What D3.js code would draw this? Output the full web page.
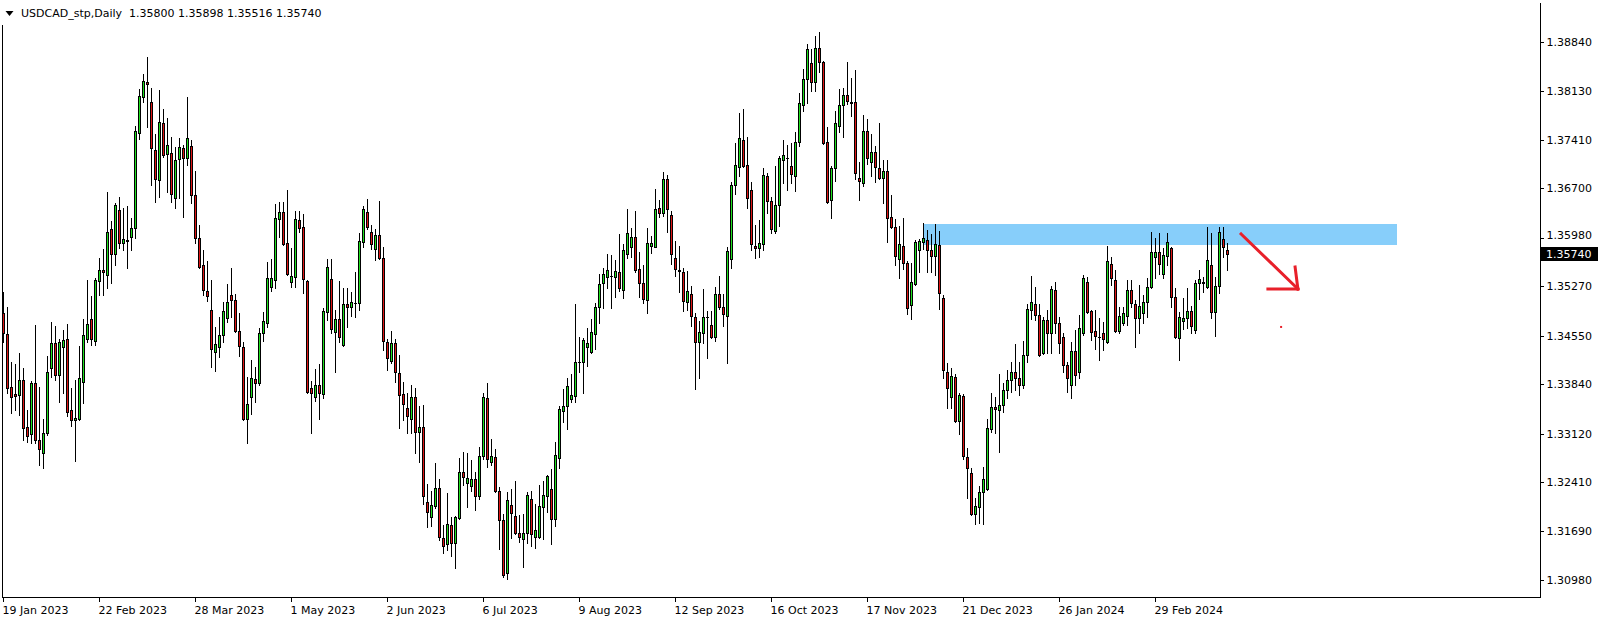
<!DOCTYPE html>
<html><head><meta charset="utf-8">
<script src="https://cdn.jsdelivr.net/npm/d3@7"></script>
<style>
body{margin:0;background:#fff;}
svg{display:block;}
text{font-family:"DejaVu Sans",sans-serif;font-size:11px;fill:#000;}
</style>
</head><body>
<svg id="c" width="1604" height="623"></svg>
<script>
const title = "USDCAD_stp,Daily  1.35800 1.35898 1.35516 1.35740";

const open = [
1.3488,1.3457,1.3380,1.3370,1.3368,1.3390,1.3322,1.3311,1.3386,1.3303,
1.3284,1.3313,1.3408,1.3444,1.3397,1.3438,1.3450,1.3346,1.3332,1.3333,
1.3387,1.3450,1.3479,1.3447,1.3535,1.3551,1.3544,1.3611,1.3574,1.3639,
1.3590,1.3593,1.3599,1.3612,1.3751,1.3804,1.3826,1.3796,1.3726,1.3682,
1.3766,1.3720,1.3722,1.3656,1.3713,1.3729,1.3715,1.3732,1.3661,1.3598,
1.3558,1.3520,1.3493,1.3431,1.3438,1.3456,1.3481,1.3514,1.3507,1.3462,
1.3438,1.3333,1.3365,1.3392,1.3386,1.3459,1.3474,1.3526,1.3536,1.3626,
1.3636,1.3590,1.3533,1.3541,1.3624,1.3614,1.3535,1.3378,1.3365,1.3383,
1.3370,1.3490,1.3538,1.3460,1.3479,1.3441,1.3501,1.3497,1.3503,1.3503,
1.3592,1.3636,1.3606,1.3582,1.3602,1.3568,1.3446,1.3418,1.3444,1.3400,
1.3370,1.3349,1.3333,1.3365,1.3314,1.3322,1.3212,1.3190,1.3206,1.3232,
1.3159,1.3151,1.3178,1.3152,1.3189,1.3256,1.3240,1.3235,1.3246,1.3221,
1.3279,1.3364,1.3270,1.3278,1.3228,1.3186,1.3108,1.3208,1.3192,1.3167,
1.3158,1.3167,1.3216,1.3161,1.3161,1.3205,1.3221,1.3231,1.3187,1.3276,
1.3345,1.3352,1.3362,1.3367,1.3416,1.3416,1.3438,1.3431,1.3457,1.3497,
1.3532,1.3541,1.3542,1.3541,1.3548,1.3522,1.3574,1.3585,1.3599,1.3552,
1.3532,1.3507,1.3586,1.3585,1.3642,1.3634,1.3684,1.3631,1.3568,1.3551,
1.3548,1.3504,1.3516,1.3482,1.3446,1.3459,1.3482,1.3471,1.3453,1.3516,
1.3497,1.3484,1.3567,1.3675,1.3701,1.3741,1.3704,1.3668,1.3586,1.3583,
1.3589,1.3688,1.3652,1.3608,1.3646,1.3712,1.3715,1.3703,1.3688,1.3738,
1.3792,1.3830,1.3853,1.3826,1.3875,1.3855,1.3738,1.3653,1.3700,1.3761,
1.3792,1.3807,1.3796,1.3796,1.3685,1.3678,1.3754,1.3709,1.3723,1.3700,
1.3685,1.3696,1.3628,1.3614,1.3567,1.3586,1.3561,1.3500,1.3530,1.3580,
1.3592,1.3595,1.3580,1.3571,1.3588,1.3510,1.3402,1.3365,1.3395,1.3330,
1.3367,1.3278,1.3254,1.3194,1.3205,1.3227,1.3231,1.3319,1.3351,1.3346,
1.3354,1.3376,1.3390,1.3402,1.3393,1.3383,1.3427,1.3493,1.3501,1.3485,
1.3430,1.3478,1.3459,1.3522,1.3474,1.3453,1.3412,1.3383,1.3433,1.3402,
1.3459,1.3533,1.3491,1.3462,1.3453,1.3459,1.3446,1.3560,1.3536,1.3462,
1.3474,1.3484,1.3522,1.3501,1.3481,1.3488,1.3504,1.3526,1.3570,1.3577,
1.3545,1.3571,1.3583,1.3511,1.3452,1.3476,1.3481,1.3491,1.3463,1.3532,
1.3532,1.3526,1.3558,1.3490,1.3528,1.3596,1.35800];

const high = [
1.3519,1.3497,1.3416,1.3414,1.3430,1.3408,1.3346,1.3389,1.3471,1.3380,
1.3333,1.3425,1.3475,1.3469,1.3450,1.3463,1.3472,1.3378,1.3390,1.3440,
1.3479,1.3536,1.3513,1.3539,1.3568,1.3582,1.3665,1.3623,1.3649,1.3658,
1.3642,1.3644,1.3627,1.3761,1.3815,1.3837,1.3862,1.3817,1.3750,1.3814,
1.3786,1.3773,1.3745,1.3731,1.3744,1.3734,1.3804,1.3741,1.3696,1.3617,
1.3580,1.3564,1.3536,1.3468,1.3482,1.3504,1.3530,1.3554,1.3516,1.3488,
1.3446,1.3395,1.3419,1.3409,1.3466,1.3490,1.3563,1.3567,1.3647,1.3650,
1.3650,1.3668,1.3583,1.3637,1.3637,1.3633,1.3536,1.3389,1.3406,1.3414,
1.3495,1.3567,1.3567,1.3493,1.3535,1.3525,1.3525,1.3519,1.3548,1.3605,
1.3644,1.3655,1.3617,1.3611,1.3652,1.3585,1.3450,1.3462,1.3450,1.3427,
1.3387,1.3371,1.3383,1.3378,1.3352,1.3354,1.3238,1.3228,1.3269,1.3246,
1.3178,1.3225,1.3190,1.3192,1.3276,1.3285,1.3284,1.3273,1.3256,1.3292,
1.3371,1.3386,1.3304,1.3289,1.3234,1.3194,1.3227,1.3231,1.3243,1.3193,
1.3194,1.3227,1.3228,1.3209,1.3237,1.3243,1.3251,1.3260,1.3300,1.3352,
1.3377,1.3393,1.3399,1.3501,1.3453,1.3452,1.3466,1.3479,1.3503,1.3545,
1.3554,1.3574,1.3573,1.3566,1.3604,1.3589,1.3640,1.3612,1.3637,1.3577,
1.3558,1.3612,1.3601,1.3669,1.3653,1.3694,1.3690,1.3637,1.3593,1.3586,
1.3554,1.3549,1.3528,1.3488,1.3476,1.3523,1.3491,1.3491,1.3526,1.3542,
1.3516,1.3585,1.3680,1.3737,1.3780,1.3786,1.3745,1.3680,1.3617,1.3624,
1.3700,1.3693,1.3658,1.3703,1.3718,1.3741,1.3734,1.3737,1.3753,1.3810,
1.3845,1.3881,1.3874,1.3893,1.3899,1.3856,1.3760,1.3703,1.3783,1.3815,
1.3817,1.3855,1.3831,1.3843,1.3709,1.3777,1.3772,1.3750,1.3732,1.3766,
1.3712,1.3712,1.3661,1.3626,1.3615,1.3627,1.3564,1.3561,1.3595,1.3596,
1.3620,1.3609,1.3604,1.3618,1.3608,1.3514,1.3415,1.3408,1.3399,1.3371,
1.3370,1.3291,1.3262,1.3218,1.3235,1.3263,1.3333,1.3371,1.3365,1.3399,
1.3386,1.3405,1.3416,1.3443,1.3416,1.3447,1.3501,1.3542,1.3526,1.3501,
1.3482,1.3493,1.3528,1.3533,1.3482,1.3459,1.3416,1.3446,1.3463,1.3485,
1.3544,1.3541,1.3493,1.3493,1.3481,1.3475,1.3586,1.3570,1.3551,1.3497,
1.3497,1.3536,1.3536,1.3507,1.3529,1.3514,1.3539,1.3606,1.3598,1.3605,
1.3583,1.3605,1.3585,1.3525,1.3490,1.3510,1.3525,1.3498,1.3536,1.3551,
1.3541,1.3614,1.3605,1.3541,1.3614,1.3614,1.35898];

const low = [
1.3446,1.3371,1.3342,1.3346,1.3339,1.3303,1.3300,1.3298,1.3298,1.3266,
1.3262,1.3310,1.3395,1.3390,1.3358,1.3371,1.3338,1.3323,1.3272,1.3332,
1.3357,1.3446,1.3441,1.3441,1.3514,1.3514,1.3525,1.3532,1.3558,1.3583,
1.3580,1.3554,1.3580,1.3598,1.3742,1.3796,1.3760,1.3675,1.3650,1.3658,
1.3716,1.3665,1.3650,1.3642,1.3656,1.3628,1.3704,1.3649,1.3590,1.3554,
1.3514,1.3506,1.3409,1.3403,1.3424,1.3446,1.3475,1.3482,1.3460,1.3425,
1.3332,1.3298,1.3341,1.3358,1.3383,1.3447,1.3468,1.3520,1.3525,1.3599,
1.3588,1.3544,1.3526,1.3526,1.3606,1.3517,1.3371,1.3313,1.3359,1.3333,
1.3364,1.3478,1.3459,1.3402,1.3446,1.3440,1.3468,1.3484,1.3482,1.3493,
1.3585,1.3611,1.3582,1.3566,1.3567,1.3434,1.3405,1.3415,1.3387,1.3320,
1.3332,1.3313,1.3313,1.3284,1.3270,1.3209,1.3175,1.3177,1.3203,1.3156,
1.3137,1.3142,1.3133,1.3116,1.3187,1.3237,1.3205,1.3228,1.3200,1.3216,
1.3275,1.3263,1.3266,1.3227,1.3143,1.3102,1.3099,1.3159,1.3165,1.3154,
1.3117,1.3152,1.3148,1.3145,1.3159,1.3158,1.3197,1.3151,1.3177,1.3262,
1.3329,1.3319,1.3358,1.3358,1.3402,1.3371,1.3411,1.3430,1.3436,1.3474,
1.3495,1.3525,1.3495,1.3511,1.3520,1.3510,1.3568,1.3570,1.3548,1.3511,
1.3503,1.3488,1.3576,1.3584,1.3628,1.3630,1.3606,1.3560,1.3542,1.3519,
1.3491,1.3493,1.3469,1.3377,1.3393,1.3444,1.3422,1.3452,1.3447,1.3494,
1.3469,1.3415,1.3554,1.3662,1.3688,1.3701,1.3642,1.3580,1.3568,1.3570,
1.3580,1.3634,1.3605,1.3605,1.3615,1.3678,1.3668,1.3678,1.3667,1.3732,
1.3783,1.3795,1.3812,1.3812,1.3840,1.3735,1.3649,1.3627,1.3681,1.3753,
1.3745,1.3793,1.3776,1.3684,1.3653,1.3674,1.3706,1.3688,1.3680,1.3684,
1.3649,1.3592,1.3612,1.3558,1.3539,1.3552,1.3487,1.3479,1.3529,1.3548,
1.3582,1.3548,1.3548,1.3544,1.3494,1.3393,1.3349,1.3349,1.3329,1.3311,
1.3275,1.3218,1.3193,1.3180,1.3181,1.3180,1.3230,1.3314,1.3313,1.3285,
1.3343,1.3364,1.3373,1.3376,1.3368,1.3378,1.3416,1.3479,1.3478,1.3425,
1.3428,1.3430,1.3430,1.3459,1.3430,1.3402,1.3373,1.3364,1.3383,1.3393,
1.3456,1.3488,1.3449,1.3436,1.3419,1.3434,1.3444,1.3529,1.3460,1.3459,
1.3471,1.3471,1.3497,1.3438,1.3459,1.3474,1.3482,1.3525,1.3539,1.3545,
1.3539,1.3558,1.3497,1.3452,1.3419,1.3465,1.3466,1.3459,1.3459,1.3509,
1.3519,1.3525,1.3481,1.3455,1.3517,1.3570,1.35516];

const close = [
1.3459,1.3378,1.3365,1.3367,1.3390,1.3320,1.3308,1.3386,1.3303,1.3289,
1.3313,1.3402,1.3444,1.3397,1.3446,1.3449,1.3343,1.3332,1.3335,1.3393,
1.3456,1.3472,1.3450,1.3536,1.3551,1.3548,1.3606,1.3574,1.3646,1.3590,
1.3596,1.3595,1.3612,1.3754,1.3805,1.3827,1.3823,1.3729,1.3684,1.3767,
1.3719,1.3734,1.3662,1.3712,1.3731,1.3715,1.3744,1.3661,1.3598,1.3555,
1.3522,1.3513,1.3435,1.3443,1.3456,1.3491,1.3504,1.3507,1.3462,1.3440,
1.3333,1.3355,1.3393,1.3386,1.3459,1.3476,1.3539,1.3539,1.3627,1.3636,
1.3589,1.3545,1.3542,1.3626,1.3612,1.3538,1.3373,1.3371,1.3383,1.3371,
1.3491,1.3555,1.3465,1.3479,1.3453,1.3501,1.3497,1.3504,1.3503,1.3593,
1.3640,1.3614,1.3589,1.3602,1.3568,1.3447,1.3422,1.3444,1.3402,1.3368,
1.3355,1.3338,1.3365,1.3314,1.3322,1.3221,1.3197,1.3208,1.3232,1.3161,
1.3148,1.3180,1.3152,1.3190,1.3256,1.3248,1.3247,1.3246,1.3221,1.3279,
1.3365,1.3275,1.3279,1.3228,1.3186,1.3105,1.3215,1.3196,1.3167,1.3161,
1.3167,1.3222,1.3165,1.3171,1.3206,1.3222,1.3250,1.3187,1.3281,1.3348,
1.3352,1.3381,1.3368,1.3416,1.3416,1.3449,1.3444,1.3460,1.3497,1.3530,
1.3545,1.3551,1.3542,1.3549,1.3525,1.3580,1.3605,1.3599,1.3551,1.3532,
1.3509,1.3590,1.3590,1.3640,1.3634,1.3684,1.3640,1.3574,1.3552,1.3549,
1.3506,1.3520,1.3484,1.3446,1.3460,1.3482,1.3482,1.3453,1.3516,1.3497,
1.3487,1.3579,1.3675,1.3704,1.3744,1.3703,1.3656,1.3589,1.3583,1.3590,
1.3690,1.3652,1.3611,1.3646,1.3715,1.3719,1.3715,1.3691,1.3738,1.3795,
1.3830,1.3874,1.3826,1.3875,1.3855,1.3737,1.3650,1.3700,1.3766,1.3792,
1.3807,1.3798,1.3795,1.3693,1.3681,1.3754,1.3715,1.3723,1.3701,1.3685,
1.3696,1.3627,1.3614,1.3571,1.3589,1.3561,1.3495,1.3533,1.3592,1.3593,
1.3598,1.3580,1.3571,1.3589,1.3517,1.3405,1.3378,1.3396,1.3330,1.3368,
1.3279,1.3262,1.3194,1.3206,1.3227,1.3246,1.3320,1.3351,1.3348,1.3354,
1.3376,1.3390,1.3402,1.3393,1.3383,1.3427,1.3494,1.3504,1.3485,1.3427,
1.3478,1.3459,1.3523,1.3474,1.3444,1.3412,1.3393,1.3433,1.3397,1.3466,
1.3539,1.3490,1.3460,1.3455,1.3453,1.3450,1.3564,1.3539,1.3462,1.3484,
1.3488,1.3522,1.3503,1.3481,1.3498,1.3504,1.3526,1.3577,1.3577,1.3560,
1.3573,1.3592,1.3511,1.3453,1.3482,1.3481,1.3491,1.3469,1.3532,1.3538,
1.3533,1.3566,1.3490,1.3528,1.3606,1.3585,1.35740];

// x-axis: bar index of each date label
const xTickIndex = [0,24,48,72,96,120,144,168,192,216,240,264,288];
const xTickLabels = ["19 Jan 2023","22 Feb 2023","28 Mar 2023","1 May 2023","2 Jun 2023","6 Jul 2023",
  "9 Aug 2023","12 Sep 2023","16 Oct 2023","17 Nov 2023","21 Dec 2023","26 Jan 2024","29 Feb 2024"];
const yTicks = [1.38840,1.38130,1.37410,1.36700,1.35980,1.35270,1.34550,1.33840,1.33120,1.32410,1.31690,1.30980];
const lastPrice = 1.35740;

// annotations (bar index / price)
const zoneX = [230, 348.6];
const zonePrice = [1.3618, 1.3587];
const arrowLine = [[309.4, 1.36035],[323.6, 1.35232]];
const arrowHeadA = [[316.1, 1.35232],[323.6, 1.35232]];
const arrowHeadB = [[322.9, 1.35553],[323.6, 1.35232]];
const redDot = [319.4, 1.34677];

const bull = "#1fe01f", bear = "#dd1515";

const svg = d3.select("#c");
const n = Math.min(open.length, high.length, low.length, close.length);
const y = d3.scaleLinear().domain([1.3098, 1.3884]).range([580, 42]);
const xc = d3.scaleLinear().domain([0, 306]).range([3.5, 1227.5]);
const py = v => Math.round(y(v));
const col = i => Math.floor(xc(i));

// zone
svg.append("rect")
  .attr("x", Math.floor(xc(zoneX[0])))
  .attr("y", py(zonePrice[0]))
  .attr("width", Math.round(xc(zoneX[1]) - xc(zoneX[0])))
  .attr("height", py(zonePrice[1]) - py(zonePrice[0]))
  .attr("fill", "#87cefa");

const bars = d3.range(n).map(i => ({i, o: open[i], h: high[i], l: low[i], c: close[i]}));
const g = svg.append("g").attr("shape-rendering", "crispEdges");
g.selectAll(".wick").data(bars).join("rect").attr("class","wick")
  .attr("x", d => col(d.i)).attr("y", d => py(d.h)).attr("width", 1)
  .attr("height", d => py(d.l) - py(d.h) + 1).attr("fill", "#000");
g.selectAll(".body").data(bars).join("rect").attr("class","body")
  .attr("x", d => col(d.i) - 1).attr("y", d => py(Math.max(d.o, d.c))).attr("width", 3)
  .attr("height", d => py(Math.min(d.o, d.c)) - py(Math.max(d.o, d.c)) + 1).attr("fill", "#000");
g.selectAll(".fill").data(bars.filter(d => py(Math.min(d.o, d.c)) - py(Math.max(d.o, d.c)) >= 2)).join("rect").attr("class","fill")
  .attr("x", d => col(d.i)).attr("y", d => py(Math.max(d.o, d.c)) + 1).attr("width", 1)
  .attr("height", d => py(Math.min(d.o, d.c)) - py(Math.max(d.o, d.c)) - 1)
  .attr("fill", d => d.c >= d.o ? bull : bear);

// arrow
const line = d3.line().x(d => xc(d[0])).y(d => y(d[1]));
[arrowLine, arrowHeadA, arrowHeadB].forEach(p => {
  svg.append("path").attr("d", line(p)).attr("fill", "none")
    .attr("stroke", "#e8202a").attr("stroke-width", 3).attr("stroke-linecap", "square");
});
svg.append("rect").attr("x", xc(redDot[0]) - 1).attr("y", y(redDot[1]) - 1)
  .attr("width", 2).attr("height", 2).attr("fill", "#e8202a");

// frame
const fr = svg.append("g").attr("shape-rendering", "crispEdges").attr("stroke", "#000").attr("stroke-width", 1);
fr.append("line").attr("x1", 1540.5).attr("x2", 1540.5).attr("y1", 3).attr("y2", 598);
fr.append("line").attr("x1", 2).attr("x2", 1541).attr("y1", 597.5).attr("y2", 597.5);
fr.append("line").attr("x1", 2.5).attr("x2", 2.5).attr("y1", 25).attr("y2", 598);

// y axis
const yAxis = d3.axisRight(y).tickValues(yTicks).tickSize(3).tickPadding(3).tickFormat(d3.format(".5f"));
const ya = svg.append("g").attr("transform", "translate(1540.5,0)").call(yAxis);
ya.select(".domain").remove();
ya.selectAll(".tick").attr("transform", d => `translate(0,${py(d) + 0.5})`);
ya.selectAll("line").attr("stroke", "#000").attr("shape-rendering", "crispEdges");
ya.selectAll("text").attr("font-family", "DejaVu Sans").attr("font-size", 11).attr("fill", "#000")
  .attr("y", d => d === 1.35980 ? -3 : 0);

// x axis
const xAxis = d3.axisBottom(xc).tickValues(xTickIndex).tickSize(4).tickPadding(5)
  .tickFormat((d, k) => xTickLabels[k]);
const xa = svg.append("g").attr("transform", "translate(0,597.5)").call(xAxis);
xa.select(".domain").remove();
xa.selectAll(".tick").attr("transform", d => `translate(${col(d) + 0.5},0)`);
xa.selectAll("line").attr("stroke", "#000").attr("shape-rendering", "crispEdges");
xa.selectAll("text").attr("text-anchor", "start").attr("x", -1)
  .attr("font-family", "DejaVu Sans").attr("font-size", 11).attr("fill", "#000");

// current price label
const yl = py(lastPrice);
svg.append("rect").attr("x", 1541).attr("y", yl - 7).attr("width", 57).attr("height", 14).attr("fill", "#000");
svg.append("text").attr("x", 1546).attr("y", yl).attr("dy", "0.35em").style("fill", "#fff")
  .text(d3.format(".5f")(lastPrice));

// header
svg.append("path").attr("d", "M5.5,11 L13.5,11 L9.5,16 Z").attr("fill", "#000");
svg.append("text").attr("x", 21).attr("y", 17).attr("xml:space", "preserve").style("white-space", "pre").text(title);
</script>
</body></html>
